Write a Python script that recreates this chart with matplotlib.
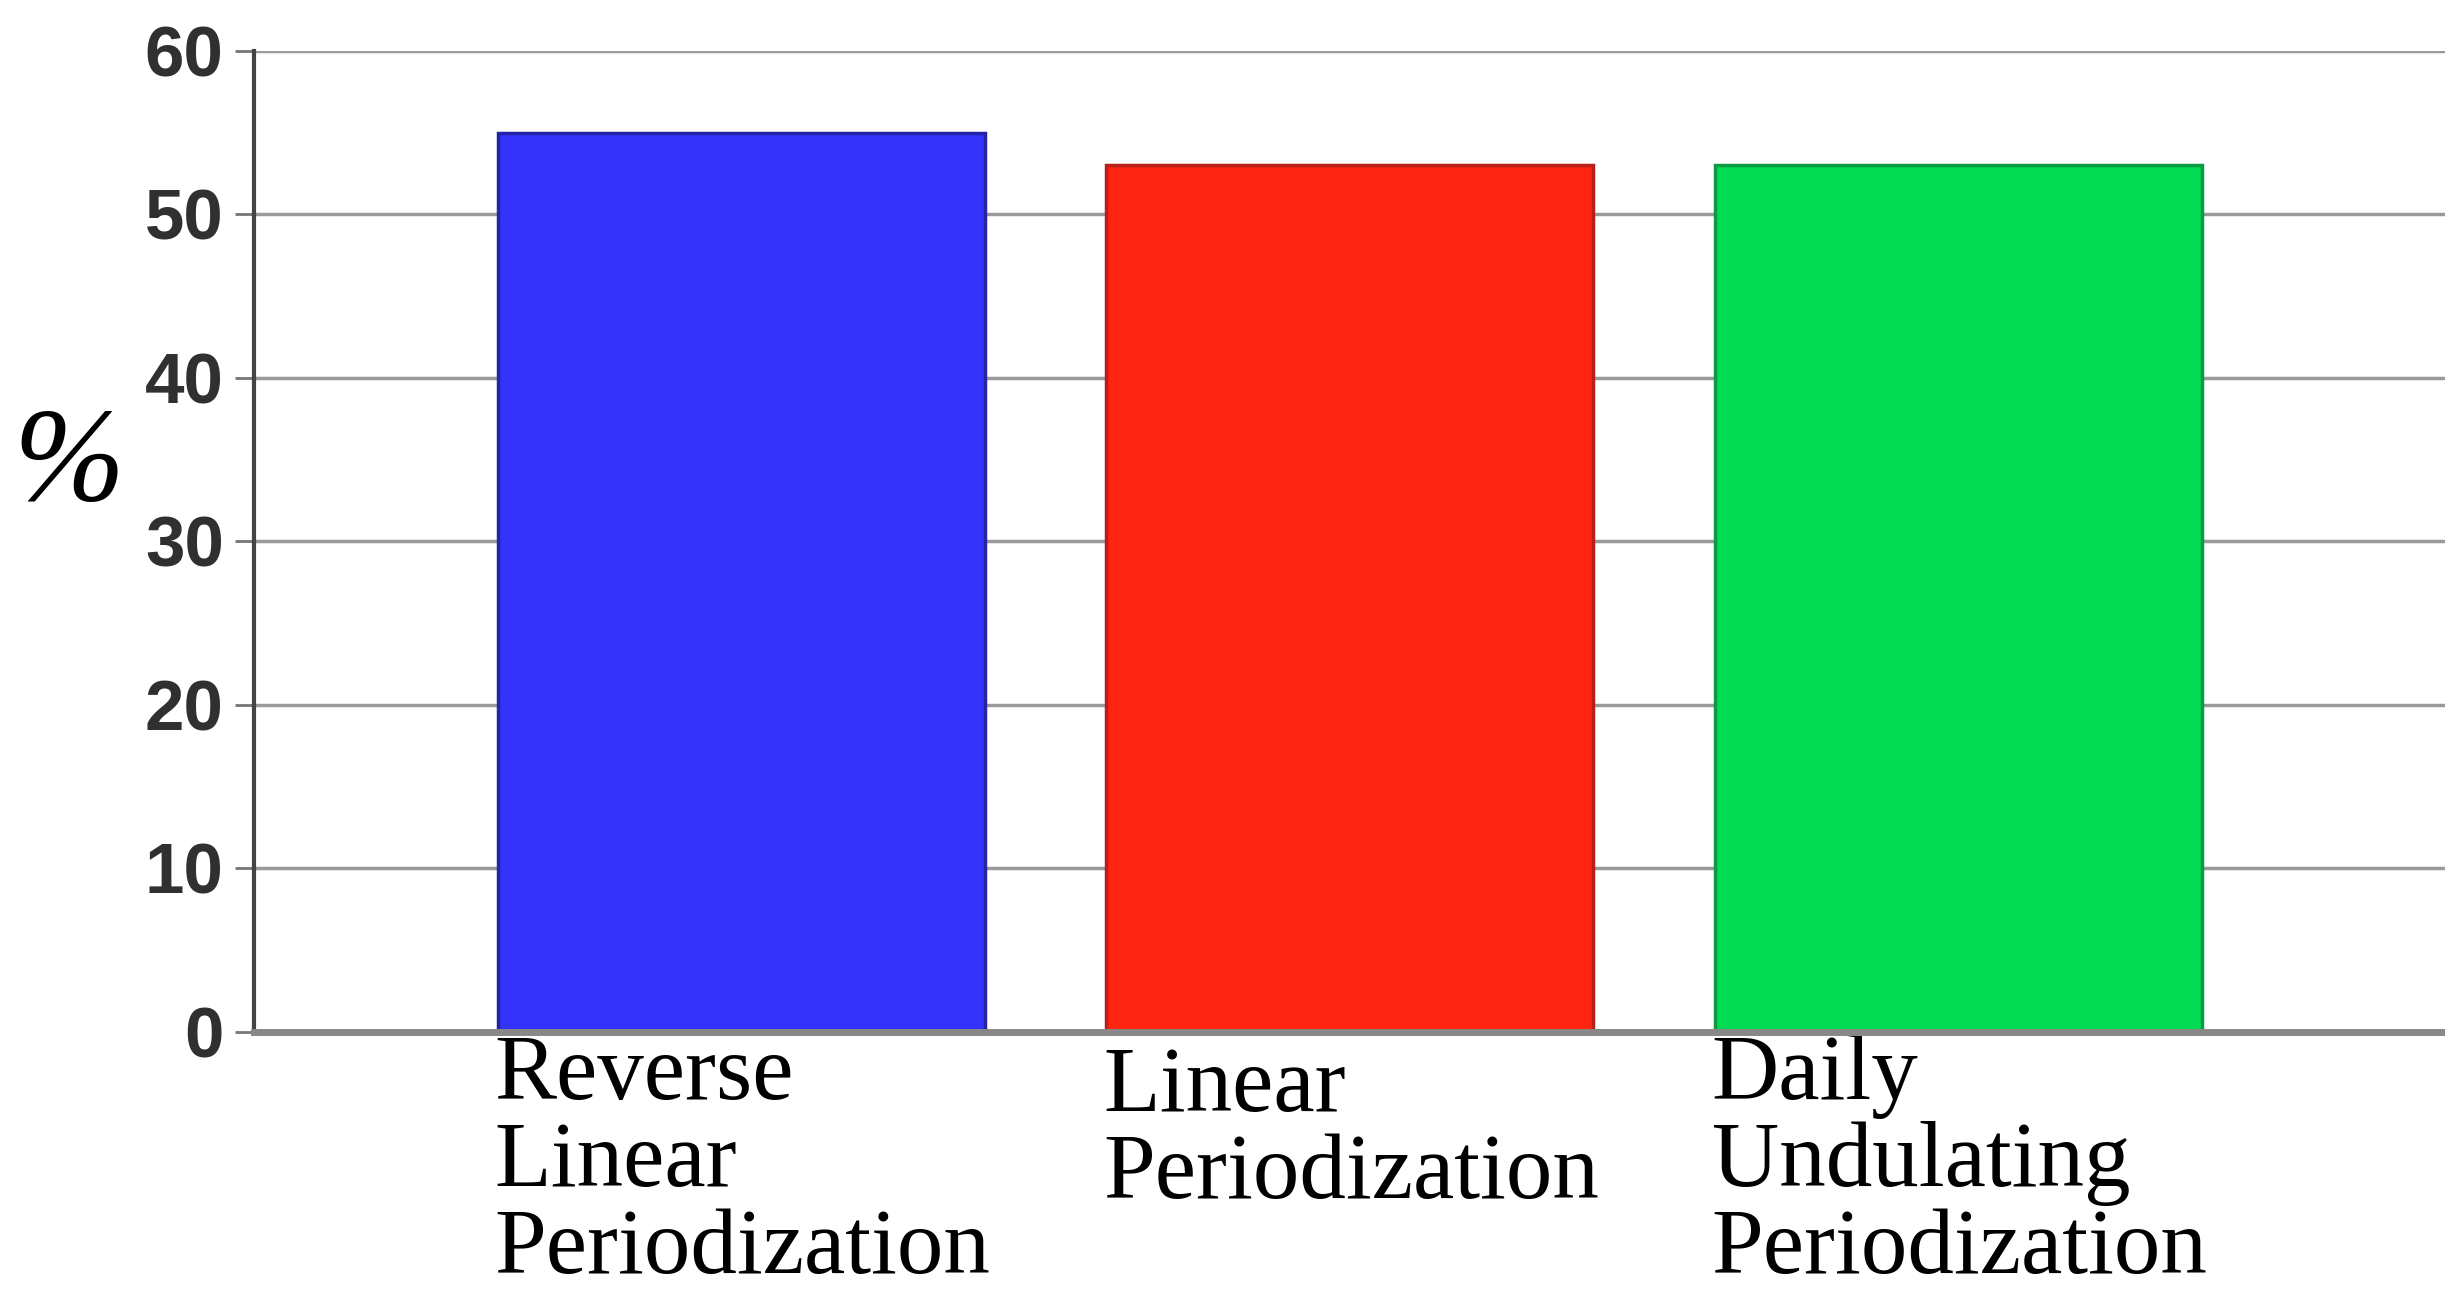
import matplotlib.pyplot as plt

# Anteil je Trainingsgruppe (%)
groups = ['Reverse\nLinear\nPeriodization', 'Linear\nPeriodization', 'Daily\nUndulating\nPeriodization']
values = [55, 53, 53]
colors = ['#3333fb', '#fd2512', '#02dc55']
edges = ['#2424a8', '#b8201a', '#0c9a45']
yticks = [0, 10, 20, 30, 40, 50, 60]

fig = plt.figure(figsize=(24.45, 12.94), dpi=100)
ax = fig.add_axes([0.104, 0.2025, 0.896, 0.7581])

x = list(range(len(groups)))
ax.bar(x, values, width=0.8, color=colors, edgecolor=edges, linewidth=2.5, zorder=3)

ax.set_xlim(-0.8, 2.8)
ax.set_ylim(0, 60)
ax.set_yticks(yticks)
ax.set_yticklabels([str(t) for t in yticks], fontsize=51, color='#303030',
                   family='Liberation Sans', weight='bold')
ax.yaxis.grid(True, color='#9a9a9a', linewidth=2.5, zorder=0)
ax.tick_params(axis='y', length=14, width=2, color='#777777', pad=8)
ax.set_xticks([])

for side in ['top', 'right']:
    ax.spines[side].set_visible(False)
ax.spines['left'].set_color('#444444')
ax.spines['left'].set_linewidth(3)
ax.spines['bottom'].set_color('#888888')
ax.spines['bottom'].set_linewidth(5)
ax.spines['bottom'].set_zorder(4)

# Beschriftungen linksbündig unter den Balken
label_y = [-0.15, -0.85, -0.15]
for xi, name, yy in zip(x, groups, label_y):
    ax.text(xi - 0.405, yy, name, ha='left', va='top', fontsize=67,
            family='Liberation Serif', linespacing=1.03, clip_on=False)

fig.text(0.028, 0.639, '%', ha='center', va='center', fontsize=96,
         family='Liberation Serif', style='italic')

fig.savefig('out.png', dpi=100)
